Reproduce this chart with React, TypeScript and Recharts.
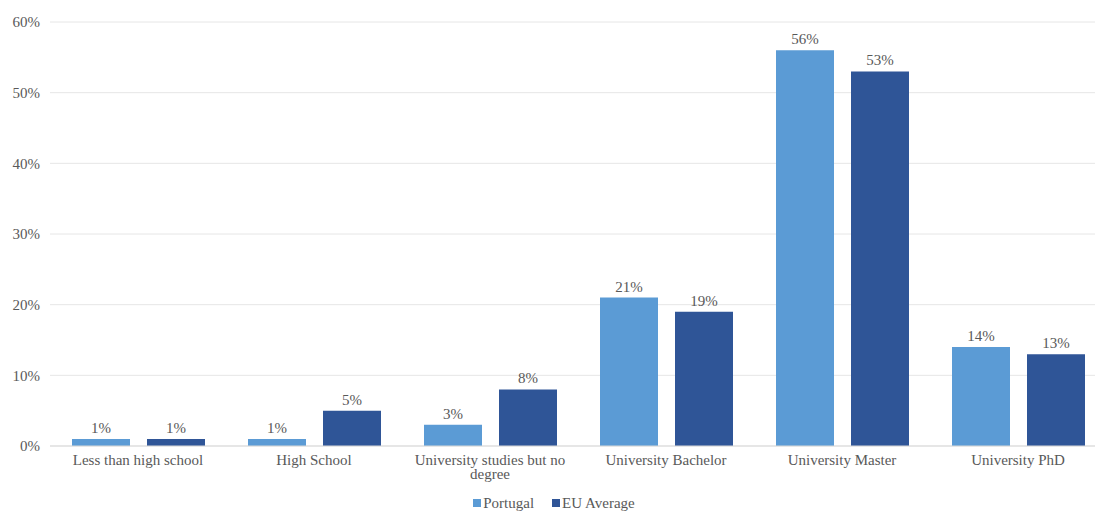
import { BarChart, Bar, XAxis, YAxis, CartesianGrid, Legend, LabelList, Text } from 'recharts'

const categories = [
  'Less than high school',
  'High School',
  'University studies but no degree',
  'University Bachelor',
  'University Master',
  'University PhD'
]
const portugal = [1, 1, 3, 21, 56, 14]
const euAverage = [1, 5, 8, 19, 53, 13]
const yTicks = [0, 10, 20, 30, 40, 50, 60]

const FONT = 'Liberation Serif, Times New Roman, Times, serif'
const TEXT = '#595959'
const SERIES = [
  { key: 'portugal', name: 'Portugal', color: '#5B9BD5' },
  { key: 'eu', name: 'EU Average', color: '#2F5597' }
]

const chartData = categories.map((name, i) => ({
  name,
  portugal: portugal[i],
  eu: euAverage[i]
}))

// wrapped category label under each group
function CategoryTick(props: any) {
  const { x, y, payload } = props
  return (
    <Text
      x={x}
      y={y}
      width={170}
      lineHeight={14}
      textAnchor="middle"
      verticalAnchor="start"
      fill={TEXT}
      fontSize={15}
      fontFamily={FONT}
    >
      {payload.value}
    </Text>
  )
}

function LegendContent() {
  return (
    <div style={{ display: 'flex', justifyContent: 'center', fontFamily: FONT, fontSize: 15, color: TEXT, lineHeight: '16px', paddingLeft: 20 }}>
      {SERIES.map((s) => (
        <span key={s.key} style={{ display: 'inline-flex', alignItems: 'center', marginRight: 18 }}>
          <span style={{ width: 8, height: 8, background: s.color, display: 'inline-block', marginRight: 2 }} />
          {s.name}
        </span>
      ))}
    </div>
  )
}

export default function App() {
  return (
    <div style={{ position: 'absolute', top: 0, left: 0, width: 1095, height: 511, overflow: 'hidden', background: '#fff' }}>
      <BarChart
        width={1106}
        height={511}
        data={chartData}
        margin={{ top: 22, right: 0, left: 0, bottom: 0 }}
        barSize={58}
        barGap={17}
      >
        <CartesianGrid vertical={false} stroke="#e6e6e6" />
        <XAxis
          dataKey="name"
          interval={0}
          height={49}
          tickLine={false}
          axisLine={{ stroke: '#d9d9d9' }}
          tick={<CategoryTick />}
        />
        <YAxis
          width={50}
          domain={[0, 60]}
          ticks={yTicks}
          axisLine={false}
          tickLine={false}
          tickMargin={4}
          tickFormatter={(v: number) => `${v}%`}
          tick={{ fill: TEXT, fontSize: 15, fontFamily: FONT }}
        />
        <Legend verticalAlign="bottom" height={16} content={<LegendContent />} />
        {SERIES.map((s) => (
          <Bar key={s.key} dataKey={s.key} name={s.name} fill={s.color} isAnimationActive={false}>
            <LabelList
              dataKey={s.key}
              position="top"
              offset={6}
              formatter={(v: any) => `${v}%`}
              fill={TEXT}
              fontSize={15}
              fontFamily={FONT}
            />
          </Bar>
        ))}
      </BarChart>
    </div>
  )
}
